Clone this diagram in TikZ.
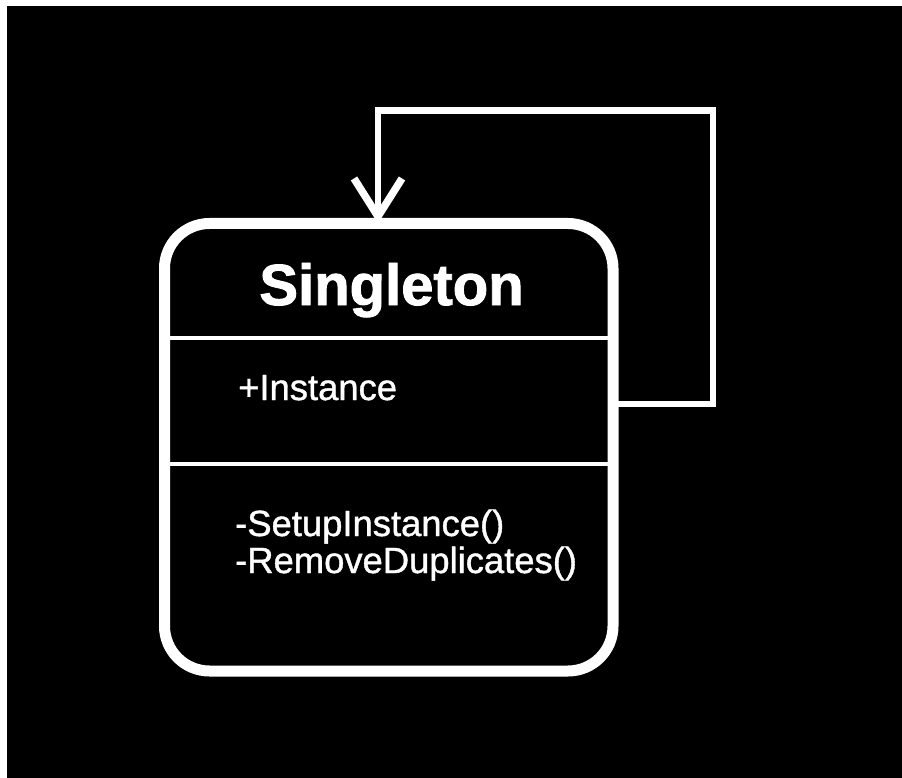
\documentclass[tikz,border=0pt]{standalone}
\usepackage{fontspec}
\setmainfont{Liberation Sans}
\newfontfamily\titlefont[FakeBold=1.6]{Liberation Sans Bold}
\newfontfamily\memberfont[FakeBold=1.1]{Liberation Sans}
\usetikzlibrary{arrows.meta}

\tikzset{
  umlbox/.style={draw=white, line width=11pt, rounded corners=45pt,
    minimum width=448.5pt, minimum height=447.5pt, inner sep=0pt, outer sep=0pt},
  divider/.style={draw=white, line width=4pt},
  selfref/.style={draw=white, line width=6.5pt, miter limit=10,
    -{Straight Barb[length=38pt, width=48pt, line width=7.5pt]}},
  titletext/.style={text=white, inner sep=0pt, anchor=base,
    font=\fontsize{58}{60}\selectfont\titlefont},
  membertext/.style={text=white, inner sep=0pt, anchor=base west,
    font=\fontsize{36.4}{38}\selectfont\memberfont},
}

\begin{document}
\begin{tikzpicture}[x=1pt, y=-1pt]
  % page and dark canvas
  \useasboundingbox (0,0) rectangle (902,778);
  \fill[white] (0,0) rectangle (902,778);
  \fill[black] (7,6) rectangle (902,778);

  % class box
  \node[umlbox] (box) at (388.75,447.25) {};
  \draw[divider] (box.west |- 0,338) -- (box.east |- 0,338);
  \draw[divider] (box.west |- 0,464) -- (box.east |- 0,464);

  % texts
  \node[titletext] (title) at (391.5,305) {Singleton};
  \node[membertext] (attr) at (238,400) {+Instance};
  \node[membertext] (meth1) at (235,536) {-SetupInstance()};
  \node[membertext] (meth2) at (235,573) {-RemoveDuplicates()};

  % self association
  \coordinate (loopA) at (713,404);
  \coordinate (loopB) at (713,110.5);
  \coordinate (loopC) at (378,110.5);
  \draw[selfref] (box.east |- loopA) -- (loopA) -- (loopB) -- (loopC) -- (loopC |- box.north);
\end{tikzpicture}
\end{document}
